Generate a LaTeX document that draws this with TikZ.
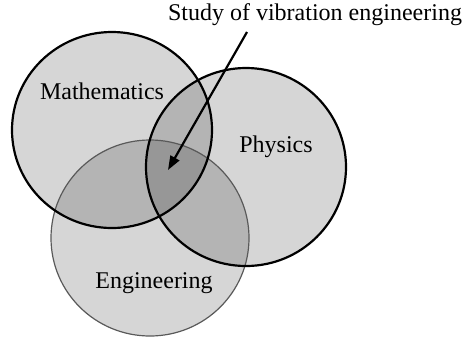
\documentclass[tikz,border=0pt]{standalone}
\usepackage{fontspec}
\setmainfont{Liberation Serif}
\usetikzlibrary{arrows.meta}
\tikzset{
    area/.style={fill=black,fill opacity=0.16},
    rim/.style={draw=black,line width=1.1pt},
}
\begin{document}
\begin{tikzpicture}[x=0.5pt,y=-0.5pt,font=\fontsize{12}{14}\selectfont]
    \useasboundingbox (0,0) rectangle (466,339);

    \fill[area] (112,130) circle [x radius=100, y radius=98];
    \fill[area] (246,167) circle [x radius=100, y radius=99];
    \fill[area] (150,238) circle [x radius=99, y radius=98];

    \draw[draw=black!65,line width=0.6pt] (150,238) circle [x radius=99, y radius=98];
    \draw[rim] (112,130) circle [x radius=100, y radius=98];
    \draw[rim] (246,167) circle [x radius=100, y radius=99];

    \node[anchor=base] (math) at (102,99) {Mathematics};
    \node[anchor=base] (phys) at (276,152) {Physics};
    \node[anchor=base] (eng) at (154,288) {Engineering};
    \node[anchor=base] (study) at (315,20) {Study of vibration engineering};

    \coordinate (top) at (247,32);
    \coordinate (tip) at (168,170);
    \draw[-{Triangle[length=7pt,width=5pt]},line width=1.1pt] (top) -- (tip);
\end{tikzpicture}
\end{document}
